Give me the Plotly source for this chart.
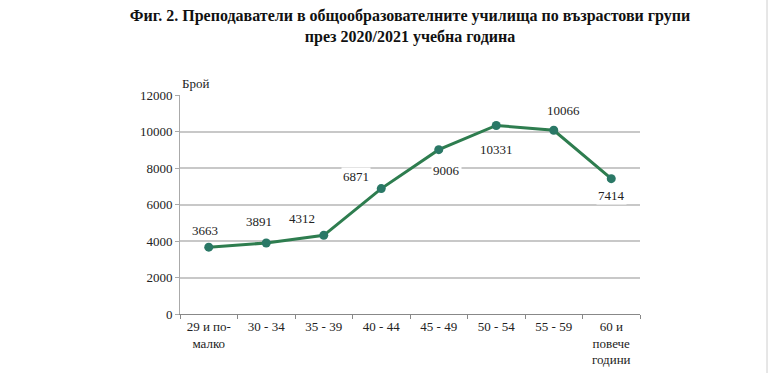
import plotly.graph_objects as go

categories = ["29 и по-<br>малко", "30 - 34", "35 - 39", "40 - 44", "45 - 49", "50 - 54", "55 - 59", "60 и<br>повече<br>години"]
values = [3663, 3891, 4312, 6871, 9006, 10331, 10066, 7414]
y_ticks = [0, 2000, 4000, 6000, 8000, 10000, 12000]
y_ticktext = [str(t) for t in y_ticks]
label_dx = [-4, -7, -22, -25, 8, 0, 10, 0]
label_dy = [17, 21, 17, 12, -21, -24, 20, -17]

FONT = "Liberation Serif"
LINE = "#2E7D4F"
MARK = "#2A7866"

fig = go.Figure()
fig.add_trace(go.Scatter(
    x=categories, y=values, mode="lines+markers",
    line=dict(color=LINE, width=3),
    marker=dict(color=MARK, size=9),
    hoverinfo="skip",
))

for c, v, dx, dy in zip(categories, values, label_dx, label_dy):
    fig.add_annotation(
        x=c, y=v, text=str(v), showarrow=False,
        xshift=dx, yshift=dy, bgcolor="white",
        font=dict(family=FONT, size=13, color="#222222"),
        borderpad=1,
    )

fig.add_annotation(
    x=0, y=1, xref="paper", yref="paper", text="Брой", showarrow=False,
    xanchor="left", yanchor="bottom", xshift=0, yshift=2,
    font=dict(family=FONT, size=13, color="#222222"),
)

fig.add_shape(type="rect", xref="paper", yref="paper", x0=1.274, x1=1.3, y0=-0.3, y1=1.5,
              line=dict(width=0), fillcolor="#E6E6E6", layer="below")

fig.update_layout(
    width=768, height=373,
    margin=dict(l=180, r=128, t=95, b=59),
    paper_bgcolor="white", plot_bgcolor="white",
    showlegend=False,
    title=dict(
        text="<b>Фиг. 2. Преподаватели в общообразователните училища по възрастови групи<br>през 2020/2021 учебна година</b>",
        x=0.5, xref="paper", xanchor="center", y=0.944, yanchor="top",
        font=dict(family=FONT, size=16, color="#111111"),
    ),
    font=dict(family=FONT, size=13, color="#222222"),
    xaxis=dict(
        type="category", range=[-0.5, 7.5], showgrid=False,
        showline=True, linecolor="#888888", linewidth=1,
        ticks="outside", tickson="boundaries", ticklen=4, tickcolor="#888888",
        tickfont=dict(family=FONT, size=13, color="#222222"),
        fixedrange=True, automargin=False,
    ),
    yaxis=dict(
        range=[0, 12000], tickvals=y_ticks, ticktext=y_ticktext,
        showgrid=True, gridcolor="#C8C8C8", gridwidth=1.5,
        showline=True, linecolor="#AAAAAA", linewidth=1,
        ticks="outside", ticklen=4, tickcolor="#AAAAAA",
        zeroline=False,
        tickfont=dict(family=FONT, size=13, color="#222222"),
        fixedrange=True, automargin=False,
    ),
)

fig.write_html("out.html", config={"displayModeBar": False},
               post_script="document.body.style.margin='0';document.body.style.overflow='hidden';")
